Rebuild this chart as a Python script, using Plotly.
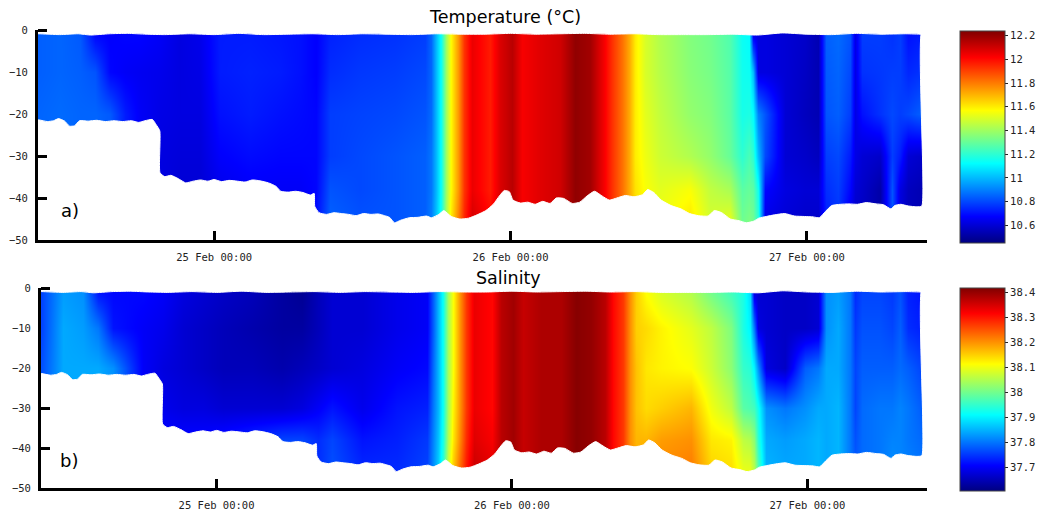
import plotly.graph_objects as go

hours = [9.83,11.53,13.15,14.37,15.58,16.80,18.01,19.63,21.25,22.87,
         24.49,26.91,29.34,30.96,32.26,33.39,35.82,38.65,41.08,41.57,
         41.97,42.37,42.78,43.18,43.75,44.24,44.88,46.34,47.15,48.12,
         48.93,50.39,52.01,53.22,54.44,55.57,56.22,57.03,57.59,58.08,
         58.89,60.10,62.53,64.15,65.77,66.74,67.31,67.63,68.03,68.60,
         70.22,71.84,72.89,73.54,74.51,75.48,75.89,76.45,77.91,78.88,
         79.53,80.18,81.23]
depths = [-47, -38, -30, -20, -10, -1]

temp_m1 = [10.84,10.85,10.83,10.68,10.67,10.68,10.68,10.66,10.62,10.64,
           10.72,10.72,10.71,10.70,10.67,10.73,10.75,10.76,10.78,10.85,
           11.00,11.14,11.40,11.58,11.75,11.93,12.05,11.97,12.08,12.14,
           12.03,12.07,12.10,12.21,12.18,12.03,11.93,11.82,11.72,11.60,
           11.50,11.43,11.35,11.32,11.26,11.14,11.12,10.64,10.62,10.62,
           10.60,10.58,10.54,10.84,10.86,10.82,10.63,10.78,10.78,10.76,
           10.78,10.70,10.72]
temp_m10 = [10.84,10.85,10.84,10.82,10.68,10.66,10.65,10.64,10.62,10.63,
            10.72,10.73,10.72,10.70,10.67,10.75,10.77,10.78,10.80,10.85,
            11.00,11.14,11.40,11.58,11.75,11.93,12.05,11.97,12.08,12.14,
            12.03,12.07,12.10,12.21,12.18,12.03,11.93,11.82,11.72,11.60,
            11.50,11.44,11.36,11.33,11.27,11.15,11.14,11.00,10.62,10.62,
            10.60,10.57,10.54,10.83,10.85,10.80,10.63,10.76,10.77,10.78,
            10.78,10.74,10.76]
temp_m20 = [10.85,10.86,10.85,10.85,10.83,10.72,10.66,10.63,10.62,10.62,
            10.70,10.72,10.70,10.69,10.68,10.78,10.79,10.80,10.82,10.86,
            11.00,11.14,11.40,11.58,11.75,11.93,12.05,11.97,12.08,12.14,
            12.03,12.07,12.10,12.21,12.18,12.03,11.93,11.82,11.72,11.60,
            11.52,11.46,11.38,11.35,11.28,11.16,11.17,11.12,10.90,10.82,
            10.60,10.56,10.54,10.82,10.84,10.78,10.63,10.70,10.76,10.80,
            10.78,10.80,10.84]
temp_m30 = [10.85,10.86,10.85,10.85,10.83,10.72,10.66,10.62,10.61,10.61,
            10.67,10.69,10.68,10.68,10.68,10.78,10.80,10.82,10.84,10.88,
            11.00,11.14,11.40,11.58,11.75,11.93,12.05,11.97,12.08,12.14,
            12.03,12.07,12.10,12.21,12.18,12.03,11.93,11.82,11.72,11.60,
            11.54,11.48,11.43,11.38,11.30,11.20,11.25,11.20,11.00,10.80,
            10.60,10.58,10.56,10.78,10.80,10.72,10.63,10.60,10.58,10.78,
            10.72,10.60,10.58]
temp_m38 = [10.85,10.86,10.85,10.85,10.83,10.72,10.66,10.62,10.60,10.60,
            10.64,10.66,10.66,10.66,10.68,10.82,10.80,10.82,10.84,10.88,
            11.00,11.14,11.40,11.58,11.75,11.93,12.05,11.97,12.08,12.14,
            12.03,12.07,12.10,12.21,12.18,12.03,11.93,11.82,11.72,11.62,
            11.56,11.52,11.56,11.46,11.42,11.28,11.30,11.28,11.15,10.68,
            10.62,10.60,10.60,10.75,10.78,10.68,10.60,10.58,10.52,10.82,
            10.62,10.56,10.54]
temp_m47 = [10.85,10.86,10.85,10.85,10.83,10.72,10.66,10.62,10.60,10.60,
            10.64,10.66,10.66,10.66,10.70,10.85,10.82,10.82,10.84,10.90,
            11.02,11.16,11.42,11.62,11.80,11.96,12.10,12.02,12.10,12.14,
            12.03,12.07,12.10,12.21,12.18,12.03,11.93,11.82,11.72,11.64,
            11.58,11.55,11.62,11.50,11.55,11.32,11.35,11.32,11.20,10.62,
            10.60,10.58,10.58,10.72,10.76,10.62,10.58,10.56,10.52,10.82,
            10.60,10.55,10.54]

sal_m1 = [37.76,37.83,37.82,37.72,37.71,37.71,37.71,37.70,37.68,37.67,
          37.66,37.65,37.63,37.62,37.65,37.67,37.67,37.69,37.70,37.78,
          37.85,37.92,38.04,38.11,38.20,38.27,38.33,38.31,38.37,38.39,
          38.36,38.38,38.38,38.41,38.40,38.37,38.31,38.27,38.20,38.15,
          38.11,38.08,38.05,38.00,37.96,37.93,37.88,37.68,37.67,37.67,
          37.66,37.66,37.67,37.82,37.83,37.80,37.74,37.76,37.76,37.75,
          37.77,37.73,37.72]
sal_m10 = [37.76,37.84,37.83,37.80,37.72,37.71,37.70,37.69,37.67,37.66,
           37.65,37.64,37.63,37.63,37.65,37.67,37.67,37.69,37.70,37.78,
           37.85,37.92,38.04,38.11,38.20,38.27,38.33,38.31,38.37,38.39,
           38.36,38.38,38.38,38.41,38.40,38.37,38.31,38.27,38.20,38.15,
           38.14,38.12,38.09,38.06,38.01,37.93,37.90,37.80,37.68,37.67,
           37.66,37.66,37.67,37.82,37.84,37.80,37.75,37.77,37.77,37.76,
           37.78,37.74,37.73]
sal_m20 = [37.77,37.84,37.84,37.84,37.82,37.76,37.70,37.68,37.67,37.66,
           37.65,37.65,37.64,37.65,37.66,37.67,37.68,37.70,37.71,37.79,
           37.85,37.92,38.04,38.11,38.20,38.27,38.33,38.31,38.37,38.39,
           38.36,38.38,38.38,38.41,38.40,38.37,38.31,38.27,38.20,38.16,
           38.13,38.12,38.11,38.07,38.02,37.95,37.94,37.90,37.82,37.68,
           37.66,37.78,37.80,37.84,37.84,37.80,37.76,37.78,37.78,37.78,
           37.79,37.78,37.76]
sal_m30 = [37.77,37.84,37.84,37.84,37.82,37.76,37.70,37.69,37.68,37.68,
           37.67,37.67,37.67,37.68,37.70,37.72,37.69,37.72,37.73,37.80,
           37.85,37.92,38.04,38.12,38.20,38.27,38.33,38.31,38.37,38.39,
           38.36,38.38,38.38,38.41,38.40,38.37,38.31,38.27,38.20,38.16,
           38.14,38.15,38.17,38.10,38.06,37.98,37.97,37.96,37.92,37.82,
           37.80,37.82,37.84,37.84,37.85,37.80,37.76,37.79,37.80,37.80,
           37.81,37.80,37.78]
sal_m38 = [37.77,37.84,37.84,37.84,37.82,37.76,37.70,37.71,37.71,37.71,
           37.72,37.74,37.76,37.76,37.74,37.76,37.72,37.73,37.75,37.81,
           37.86,37.93,38.05,38.13,38.21,38.28,38.34,38.32,38.37,38.39,
           38.36,38.38,38.38,38.41,38.40,38.37,38.31,38.27,38.20,38.17,
           38.17,38.19,38.20,38.13,38.12,38.06,38.05,38.02,37.94,37.84,
           37.83,37.84,37.85,37.84,37.85,37.80,37.77,37.79,37.80,37.81,
           37.81,37.80,37.79]
sal_m47 = [37.77,37.84,37.84,37.84,37.82,37.76,37.70,37.71,37.72,37.72,
           37.73,37.75,37.77,37.77,37.74,37.77,37.74,37.74,37.76,37.82,
           37.87,37.95,38.08,38.16,38.24,38.30,38.36,38.34,38.37,38.39,
           38.36,38.38,38.38,38.41,38.40,38.37,38.31,38.27,38.21,38.18,
           38.18,38.21,38.22,38.15,38.14,38.10,38.10,38.06,37.98,37.85,
           37.84,37.84,37.85,37.84,37.85,37.80,37.78,37.79,37.80,37.82,
           37.81,37.81,37.80]

bottom_hours = [9.0,9.8,10.5,11.0,11.4,11.9,12.3,12.7,13.1,13.8,14.5,15.2,15.9,16.6,17.3,17.9,18.4,19.0,19.3,19.6,19.62,
                20.0,20.5,21.1,21.7,22.3,22.9,23.5,24.0,24.6,25.2,25.9,26.5,27.1,27.7,28.4,29.0,29.4,30.0,30.6,31.2,
                31.8,32.1,32.15,32.5,33.1,33.7,34.3,34.9,35.5,36.1,36.7,37.3,37.8,38.2,38.6,39.1,39.8,40.5,41.2,41.6,
                42.2,42.6,43.2,43.9,44.6,45.3,46.0,46.6,47.1,47.5,47.9,48.2,48.8,49.4,50.0,50.6,51.2,51.7,52.3,53.0,
                53.6,54.2,54.8,55.4,56.0,56.6,57.3,58.0,58.7,59.1,59.6,60.2,61.0,61.8,62.5,63.2,64.0,64.5,65.1,65.8,
                66.5,67.1,67.7,68.1,68.7,69.4,70.2,71.0,71.8,72.5,73.0,73.5,74.0,74.7,75.4,76.1,76.8,77.6,78.2,78.8,
                79.1,79.6,80.2,80.9,81.3,81.31,82.0]
bottom_depth = [-21.4,-21.4,-21.8,-21.6,-21.1,-21.7,-22.9,-22.8,-21.6,-21.7,-21.5,-21.8,-21.6,-21.8,-21.6,-22.0,-21.6,-21.3,-22.5,-24.0,-34.0,
                -34.9,-34.6,-35.4,-36.4,-36.0,-35.7,-36.0,-35.6,-36.1,-35.8,-36.0,-36.2,-35.7,-35.9,-36.4,-37.2,-38.4,-38.6,-38.4,-38.7,
                -39.3,-38.9,-42.0,-43.5,-43.9,-43.5,-43.7,-43.9,-44.2,-43.7,-43.9,-43.8,-44.2,-44.6,-45.9,-45.3,-44.7,-44.6,-44.3,-44.7,
                -43.9,-43.0,-44.4,-45.0,-44.8,-44.0,-43.0,-41.5,-39.5,-38.2,-38.5,-40.5,-41.2,-41.0,-41.5,-40.8,-41.3,-40.0,-40.1,-41.3,
                -41.0,-39.5,-38.4,-39.5,-40.5,-40.0,-39.4,-39.7,-39.2,-38.0,-38.7,-40.5,-41.8,-42.6,-43.7,-44.2,-44.3,-43.0,-43.5,-45.0,
                -45.4,-45.9,-45.5,-44.8,-44.4,-44.0,-43.7,-44.3,-44.4,-44.5,-44.7,-43.2,-41.8,-41.5,-41.4,-41.5,-41.1,-41.4,-41.6,-42.6,
                -41.8,-41.5,-41.9,-42.1,-41.9,0,0]

surface_hours = [9.0,9.8,11.5,13.0,14.0,15.5,17.0,18.5,20.0,22.0,24.0,26.0,28.0,30.0,32.0,34.0,36.0,38.0,40.0,42.0,44.0,
                 46.0,48.0,50.0,52.0,54.0,56.0,58.0,60.0,62.0,64.0,66.0,68.0,70.0,72.0,74.0,76.0,78.0,80.0,81.3,82.0]
surface_depth = [-0.9,-0.9,-1.1,-0.9,-1.2,-0.9,-0.8,-1.0,-1.1,-0.9,-1.1,-0.8,-1.1,-1.0,-0.9,-1.1,-0.9,-1.0,-1.1,-0.9,-1.0,
                 -1.0,-0.8,-1.0,-0.9,-0.8,-1.0,-0.9,-1.1,-1.1,-1.1,-1.0,-1.2,-0.7,-1.0,-1.1,-0.8,-1.0,-0.9,-1.0,-1.0]

day_ticks = [24, 48, 72]
day_labels = ["25 Feb 00:00", "26 Feb 00:00", "27 Feb 00:00"]
depth_labels = [0, -10, -20, -30, -40, -50]
marked_depths = [0, -30, -40]
temp_ticks = [10.6, 10.8, 11, 11.2, 11.4, 11.6, 11.8, 12, 12.2]
sal_ticks = [37.7, 37.8, 37.9, 38, 38.1, 38.2, 38.3, 38.4]

W, H = 1042, 513
JET = [[0, "rgb(0,0,128)"], [0.125, "rgb(0,0,255)"], [0.375, "rgb(0,255,255)"],
       [0.625, "rgb(255,255,0)"], [0.875, "rgb(255,0,0)"], [1, "rgb(128,0,0)"]]
MONO = "DejaVu Sans Mono"
SANS = "DejaVu Sans"
CLEAR = "rgba(0,0,0,0)"
X_RANGE = [9.74, 81.72]

fig = go.Figure()


def add_panel(rows, zmin, zmax, ticks, xa, ya, cb_y, cb_len):
    fig.add_trace(go.Heatmap(
        x=hours, y=depths, z=rows, zmin=zmin, zmax=zmax, zsmooth="best",
        colorscale=JET, xaxis=xa, yaxis=ya, hoverinfo="skip",
        colorbar=dict(x=960 / W, xanchor="left", xpad=0, y=cb_y, yanchor="middle", ypad=0,
                      len=cb_len, lenmode="fraction", thickness=45, thicknessmode="pixels",
                      tickmode="array", tickvals=ticks, ticks="outside", ticklen=3, tickwidth=1,
                      tickcolor="#222", outlinewidth=1, outlinecolor="#444",
                      tickfont=dict(family=MONO, size=10.5, color="#222")),
    ))
    for edge_x, edge_y, limit in [(bottom_hours, bottom_depth, -50), (surface_hours, surface_depth, 0)]:
        fig.add_trace(go.Scatter(x=edge_x, y=[limit] * len(edge_x), mode="lines",
                                 line=dict(width=1, color=CLEAR),
                                 xaxis=xa, yaxis=ya, showlegend=False, hoverinfo="skip"))
        fig.add_trace(go.Scatter(x=edge_x, y=edge_y, mode="lines",
                                 line=dict(width=1, color="white", shape="spline", smoothing=0.5),
                                 fill="tonexty", fillcolor="white",
                                 xaxis=xa, yaxis=ya, showlegend=False, hoverinfo="skip"))


add_panel([temp_m47, temp_m38, temp_m30, temp_m20, temp_m10, temp_m1], 10.45, 12.24, temp_ticks,
          "x", "y", 0.733, 212 / H)
add_panel([sal_m47, sal_m38, sal_m30, sal_m20, sal_m10, sal_m1], 37.604, 38.416, sal_ticks,
          "x2", "y2", 0.2407, 203 / H)


def x_axis(left, anchor):
    return dict(domain=[left / W, 927 / W], range=X_RANGE, anchor=anchor, showgrid=False, zeroline=False,
                showline=True, linecolor="black", linewidth=3, layer="above traces",
                tickmode="array", tickvals=day_ticks, ticktext=day_labels,
                ticks="inside", ticklen=9, tickwidth=3, tickcolor="black",
                ticklabelstandoff=5,
                tickfont=dict(family=MONO, size=10.5, color="#222"))


def y_axis(top, bottom, anchor):
    return dict(domain=[(H - bottom) / H, (H - top) / H], range=[-50, 0], anchor=anchor, showgrid=False,
                zeroline=False, showline=True, linecolor="black", linewidth=3, layer="above traces",
                tickmode="array", tickvals=depth_labels, ticks="outside", ticklen=5,
                tickcolor=CLEAR, tickwidth=1,
                minor=dict(tickmode="array", tickvals=marked_depths, ticks="inside", ticklen=9,
                           tickwidth=3, tickcolor="black"),
                tickfont=dict(family=MONO, size=10.5, color="#222"))


def label(text, px, py, size=17.5):
    return dict(text=text, x=px / W, y=(H - py) / H, xref="paper", yref="paper", showarrow=False,
                xanchor="center", yanchor="middle", font=dict(family=SANS, size=size, color="black"))


fig.update_layout(
    width=W, height=H, margin=dict(l=0, r=0, t=0, b=0, autoexpand=False),
    paper_bgcolor="white", plot_bgcolor="white", showlegend=False,
    xaxis=x_axis(38, "y"), yaxis=y_axis(30, 240, "x"),
    xaxis2=x_axis(41, "y2"), yaxis2=y_axis(288, 488, "x2"),
    annotations=[label("Temperature (°C)", 505, 17), label("Salinity", 508, 278),
                 label("a)", 70, 210, 18), label("b)", 69, 460, 18)],
)

fig.write_html("out.html", post_script="document.body.style.margin='0';",
               config=dict(displayModeBar=False))
